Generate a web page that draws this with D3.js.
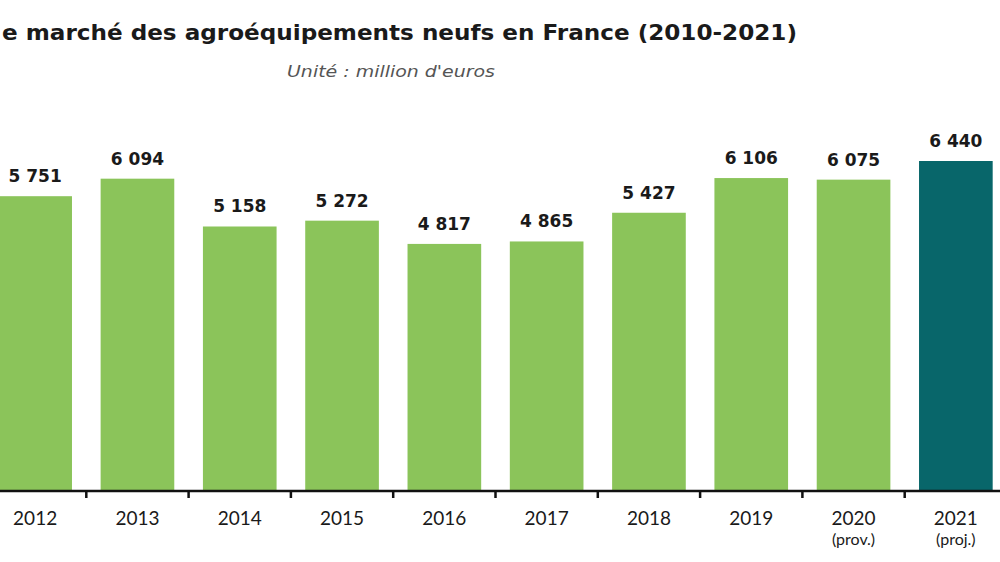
<!DOCTYPE html>
<html><head><meta charset="utf-8">
<script src="https://cdn.jsdelivr.net/npm/d3@7"></script>
<style>body{margin:0;background:#fff}</style></head>
<body><svg id="c" width="1000" height="562"></svg>
<script>
const years = ["2012","2013","2014","2015","2016","2017","2018","2019","2020","2021"];
const notes = ["","","","","","","","","(prov.)","(proj.)"];
const values = [5751,6094,5158,5272,4817,4865,5427,6106,6075,6440];
const labels = ["5 751","6 094","5 158","5 272","4 817","4 865","5 427","6 106","6 075","6 440"];
const svg = d3.select("#c");
const base = 490;
const x = d3.scaleBand().domain(years).range([-16, 1007]).paddingInner(0.28).paddingOuter(0.14);
const y = d3.scaleLinear().domain([0, 6440]).range([base, 161]);
svg.append("text").attr("x",2).attr("y",40).attr("font-family","'DejaVu Sans', sans-serif").attr("font-weight","bold")
  .attr("font-size",21).attr("fill","#1a1a1a").attr("textLength",795).attr("lengthAdjust","spacingAndGlyphs")
  .text("e marché des agroéquipements neufs en France (2010-2021)");
svg.append("text").attr("x",287).attr("y",77).attr("font-family","'DejaVu Sans', sans-serif").attr("font-style","italic")
  .attr("font-size",15).attr("fill","#555").attr("textLength",208).attr("lengthAdjust","spacingAndGlyphs").text("Unité : million d'euros");
svg.selectAll("rect.b").data(years).join("rect").attr("x",d=>x(d)).attr("width",x.bandwidth())
  .attr("y",(d,i)=>y(values[i])).attr("height",(d,i)=>base-y(values[i]))
  .attr("fill",(d,i)=>i===9?"#08666a":"#8bc45a");
svg.selectAll("text.v").data(years).join("text").attr("x",d=>x(d)+x.bandwidth()/2)
  .attr("y",(d,i)=>y(values[i])-14).attr("text-anchor","middle").attr("font-family","'DejaVu Sans', sans-serif")
  .attr("font-weight","bold").attr("font-size",17).attr("fill","#1a1a1a").text((d,i)=>labels[i]);
svg.append("line").attr("x1",0).attr("x2",1000).attr("y1",base+1).attr("y2",base+1).attr("stroke","#111").attr("stroke-width",2.5);
const step = x.step();
svg.selectAll("line.t").data(years).join("line").attr("x1",d=>x(d)+x.bandwidth()+(step-x.bandwidth())/2)
  .attr("x2",d=>x(d)+x.bandwidth()+(step-x.bandwidth())/2).attr("y1",base).attr("y2",base+8).attr("stroke","#111").attr("stroke-width",2.5);
svg.selectAll("text.y").data(years).join("text").attr("x",d=>x(d)+x.bandwidth()/2).attr("y",525)
  .attr("text-anchor","middle").attr("font-family","Lato, sans-serif").attr("font-size",19).attr("fill","#1a1a1a").text(d=>d);
svg.selectAll("text.n").data(years).join("text").attr("x",d=>x(d)+x.bandwidth()/2).attr("y",545)
  .attr("text-anchor","middle").attr("font-family","Lato, sans-serif").attr("font-size",16).attr("fill","#1a1a1a").text((d,i)=>notes[i]);
</script></body></html>
